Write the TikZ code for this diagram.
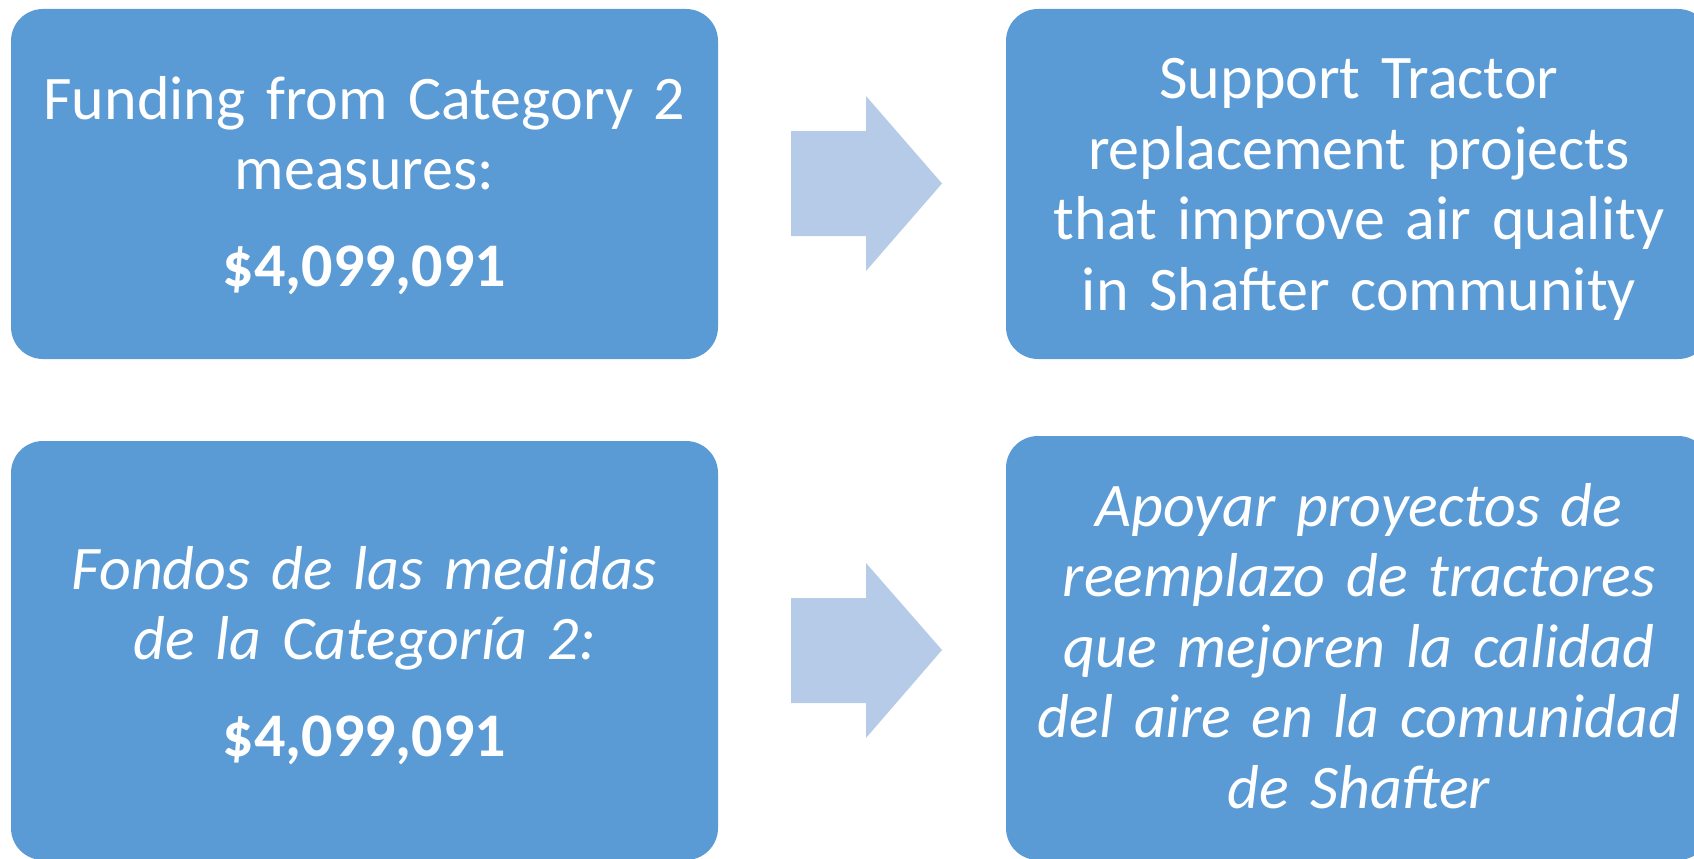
\documentclass[tikz,border=0pt]{standalone}
\usepackage{fontspec}
\setmainfont{Carlito}
\definecolor{boxblue}{HTML}{5B9BD5}
\definecolor{arrowblue}{HTML}{B6CBE8}
\begin{document}
\begin{tikzpicture}[x=1pt,y=-1pt,
  box/.style={draw=none,fill=boxblue,rounded corners=32pt,inner sep=0pt},
  txt/.style={text=white,anchor=base,align=center,text width=700pt,inner sep=0pt,
    font=\fontsize{62}{70.5}\selectfont},
  bigarrow/.style={fill=arrowblue,draw=none}]
\useasboundingbox (0,0) rectangle (1694,859);
\begin{scope}
\clip (0,0) rectangle (1694,859);
\node[box,minimum width=707pt,minimum height=350pt] (tl) at (364.5,184) {};
\node[box,minimum width=704pt,minimum height=350pt] (tr) at (1358,184) {};
\node[box,minimum width=707pt,minimum height=419pt] (bl) at (364.5,650.5) {};
\node[box,minimum width=704pt,minimum height=424pt] (br) at (1358,648) {};
\end{scope}
\node[txt] (tlt) at (364.5,119) {Funding from Category 2\\measures:\\[26pt]\textbf{\$4,099,091}};
\node[txt] (trt) at (1359,99) {Support Tractor\\replacement projects\\that improve air quality\\in Shafter community};
\node[txt] (blt) at (364.5,589) {\itshape Fondos de las medidas\\\itshape de la Categoría 2:\\[26pt]\upshape\bfseries \$4,099,091};
\node[txt] (brt) at (1359,526) {\itshape Apoyar proyectos de\\\itshape reemplazo de tractores\\\itshape que mejoren la calidad\\\itshape del aire en la comunidad\\\itshape de Shafter};
\fill[bigarrow] (791,131) -- (866,131) -- (866,96) -- (942,183.5) -- (866,271) -- (866,236) -- (791,236) -- cycle;
\fill[bigarrow] (791,598) -- (866,598) -- (866,563) -- (942,650) -- (866,738) -- (866,703) -- (791,703) -- cycle;
\end{tikzpicture}
\end{document}
